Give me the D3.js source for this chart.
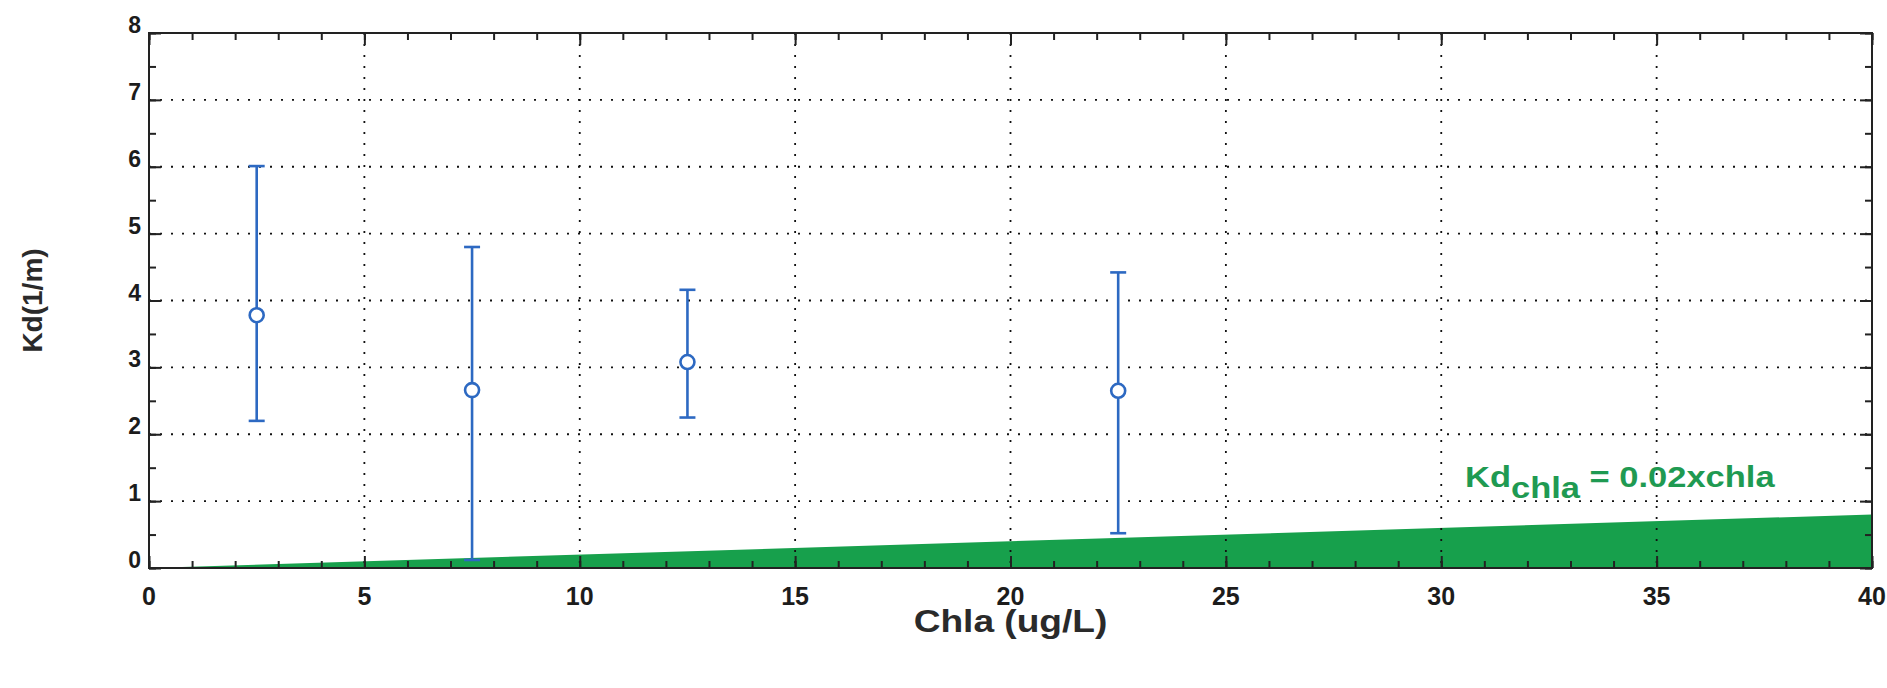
<!DOCTYPE html>
<html>
<head>
    <title>Kd vs Chla</title>
    <script src="https://d3js.org/d3.v7.min.js"></script>
    <style>
        body { margin: 0; background: #fff; }
        text { font-family: "Liberation Sans", Arial, sans-serif; font-weight: bold; }
    </style>
</head>
<body>
    <div id="chart"></div>

    <script>
        // Measured points (Chla bins) with error bars
        var chla = [2.5, 7.5, 12.5, 22.5];
        var kdMean = [3.78, 2.66, 3.08, 2.65];
        var kdUpper = [6.01, 4.80, 4.16, 4.42];
        var kdLower = [2.20, 0.12, 2.25, 0.52];

        // Kd_chla = 0.02 x chla, end points
        var lineChla = [0, 40];
        var lineKd = [0, 0.8];

        // Tick labels
        var xTickLabels = [0, 5, 10, 15, 20, 25, 30, 35, 40];
        var yTickLabels = [0, 1, 2, 3, 4, 5, 6, 7, 8];

        var width = 1887;
        var height = 688;
        var plotLeft = 149, plotRight = 1872, plotTop = 33, plotBottom = 568;

        var svg = d3.select("#chart")
            .append("svg")
            .attr("width", width)
            .attr("height", height);

        var x = d3.scaleLinear().domain([0, 40]).range([plotLeft, plotRight]);
        var y = d3.scaleLinear().domain([0, 8]).range([plotBottom, plotTop]);

        var xMinor = d3.range(0, 41, 1);
        var yMinor = d3.range(0, 8.01, 0.5);

        // Green area under the Kd_chla line
        var area = d3.area()
            .x(function(d) { return x(d[0]); })
            .y0(y(0))
            .y1(function(d) { return y(d[1]); });
        svg.append("path")
            .datum(lineChla.map(function(c, i) { return [c, lineKd[i]]; }))
            .attr("d", area)
            .attr("fill", "#17a04c");

        // Dotted grid
        var grid = svg.append("g")
            .attr("stroke", "#111")
            .attr("stroke-width", 1.8)
            .attr("stroke-dasharray", "2,9");
        grid.selectAll(".gx")
            .data(xTickLabels.slice(1, -1))
            .enter().append("line")
            .attr("x1", function(d) { return x(d); })
            .attr("x2", function(d) { return x(d); })
            .attr("y1", plotTop)
            .attr("y2", plotBottom);
        grid.selectAll(".gy")
            .data(yTickLabels.slice(1, -1))
            .enter().append("line")
            .attr("x1", plotLeft)
            .attr("x2", plotRight)
            .attr("y1", function(d) { return y(d); })
            .attr("y2", function(d) { return y(d); });

        // Inward ticks on all four sides
        function addAxis(axis, tx, ty) {
            var g = svg.append("g")
                .attr("transform", "translate(" + tx + "," + ty + ")")
                .call(axis);
            g.select(".domain").remove();
            g.selectAll("line").attr("stroke", "#222").attr("stroke-width", 2);
            g.selectAll("text").remove();
        }
        addAxis(d3.axisBottom(x).tickValues(xMinor).tickSize(-7), 0, plotBottom);
        addAxis(d3.axisBottom(x).tickValues(xTickLabels).tickSize(-12), 0, plotBottom);
        addAxis(d3.axisTop(x).tickValues(xMinor).tickSize(-7), 0, plotTop);
        addAxis(d3.axisTop(x).tickValues(xTickLabels).tickSize(-12), 0, plotTop);
        addAxis(d3.axisLeft(y).tickValues(yMinor).tickSize(-7), plotLeft, 0);
        addAxis(d3.axisLeft(y).tickValues(yTickLabels).tickSize(-12), plotLeft, 0);
        addAxis(d3.axisRight(y).tickValues(yMinor).tickSize(-7), plotRight, 0);
        addAxis(d3.axisRight(y).tickValues(yTickLabels).tickSize(-12), plotRight, 0);

        // Box
        svg.append("rect")
            .attr("x", plotLeft)
            .attr("y", plotTop)
            .attr("width", plotRight - plotLeft)
            .attr("height", plotBottom - plotTop)
            .attr("fill", "none")
            .attr("stroke", "#222")
            .attr("stroke-width", 2);

        // Tick labels
        svg.selectAll(".xl")
            .data(xTickLabels)
            .enter().append("text")
            .attr("x", function(d) { return x(d); })
            .attr("y", 605)
            .attr("text-anchor", "middle")
            .attr("font-size", 25)
            .attr("fill", "#1c1c1c")
            .text(function(d) { return d; });
        svg.selectAll(".yl")
            .data(yTickLabels)
            .enter().append("text")
            .attr("x", 141)
            .attr("y", function(d) { return y(d); })
            .attr("text-anchor", "end")
            .attr("font-size", 23)
            .attr("fill", "#1c1c1c")
            .text(function(d) { return d; });

        // Error bars
        var blue = "#2d69c2";
        var bars = svg.append("g")
            .attr("stroke", blue)
            .attr("stroke-width", 2.6)
            .attr("fill", "none");
        chla.forEach(function(c, i) {
            var cx = x(c);
            bars.append("line")
                .attr("x1", cx).attr("x2", cx)
                .attr("y1", y(kdLower[i])).attr("y2", y(kdUpper[i]));
            bars.append("line")
                .attr("x1", cx - 8).attr("x2", cx + 8)
                .attr("y1", y(kdUpper[i])).attr("y2", y(kdUpper[i]));
            bars.append("line")
                .attr("x1", cx - 8).attr("x2", cx + 8)
                .attr("y1", y(kdLower[i])).attr("y2", y(kdLower[i]));
        });
        svg.selectAll(".pt")
            .data(chla)
            .enter().append("circle")
            .attr("cx", function(d) { return x(d); })
            .attr("cy", function(d, i) { return y(kdMean[i]); })
            .attr("r", 7)
            .attr("fill", "#fff")
            .attr("stroke", blue)
            .attr("stroke-width", 2.6);

        // Equation label (source text is a bit wide, so stretch horizontally)
        var eq = svg.append("text")
            .attr("transform", "translate(1465,487) scale(1.15,1)")
            .attr("font-size", 30)
            .attr("fill", "#1f9a52");
        eq.append("tspan").text("Kd");
        eq.append("tspan").attr("dy", 11).text("chla");
        eq.append("tspan").attr("dy", -11).text(" = 0.02xchla");

        // Axis titles
        svg.append("text")
            .attr("transform", "translate(" + (plotLeft + plotRight) / 2 + ",632) scale(1.16,1)")
            .attr("text-anchor", "middle")
            .attr("font-size", 32)
            .attr("fill", "#2a2a2a")
            .text("Chla (ug/L)");
        svg.append("text")
            .attr("transform", "translate(42," + (plotTop + plotBottom) / 2 + ") rotate(-90)")
            .attr("text-anchor", "middle")
            .attr("font-size", 28)
            .attr("fill", "#2a2a2a")
            .text("Kd(1/m)");
    </script>
</body>
</html>
